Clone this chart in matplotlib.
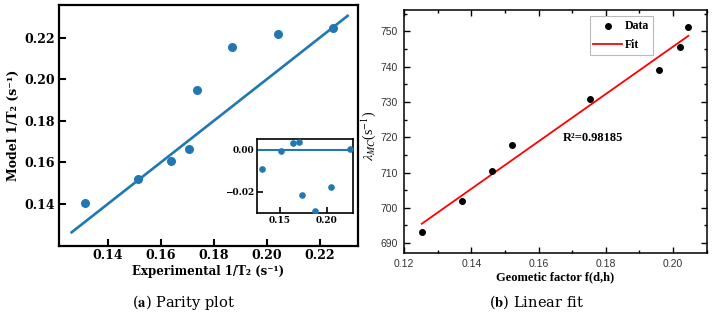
import numpy as np
import matplotlib.pyplot as plt
from matplotlib.ticker import MultipleLocator

# (a) parity plot data
exp_t2 = [0.1312, 0.1514, 0.1638, 0.1707, 0.1736, 0.1870, 0.2042, 0.2248]
model_t2 = [0.1403, 0.1518, 0.1608, 0.1665, 0.1950, 0.2157, 0.2218, 0.2244]
resid = [-0.0092, -0.0005, 0.0030, 0.0038, -0.0216, -0.0291, -0.0179, 0.0002]
parity_line = [0.1263, 0.2305]

# (b) linear fit data
geo_factor = [0.1252, 0.1372, 0.1461, 0.1520, 0.1754, 0.1960, 0.2022, 0.2046]
lambda_mc = [693.1, 702.0, 710.5, 717.7, 730.8, 738.9, 745.5, 751.3]
r2_text = "R²=0.98185"

plt.rcParams['mathtext.fontset'] = 'stix'

fig = plt.figure(figsize=(7.13, 3.17), dpi=100)
W, H = 713, 317


def box(x0, y0, x1, y1):
    return [x0 / W, 1 - y1 / H, (x1 - x0) / W, (y1 - y0) / H]


blue = '#1f77b4'
bold_serif = dict(family='DejaVu Serif', weight='bold')

# ---- left panel ----
ax1 = fig.add_axes(box(58.7, 5, 358, 246))
ax1.plot(parity_line, parity_line, color=blue, lw=1.9)
ax1.scatter(exp_t2, model_t2, s=30, color=blue, zorder=3)
ax1.set_xlim(0.1214, 0.2344)
ax1.set_ylim(0.1197, 0.2357)
ax1.set_xticks([0.14, 0.16, 0.18, 0.20, 0.22])
ax1.set_yticks([0.14, 0.16, 0.18, 0.20, 0.22])
ax1.tick_params(direction='in', length=5, width=1.5, labelsize=9, pad=3)
ax1.tick_params(axis='x', pad=2)
for lab in ax1.get_xticklabels() + ax1.get_yticklabels():
    lab.set_fontfamily('DejaVu Serif')
    lab.set_fontweight('bold')
for sp in ax1.spines.values():
    sp.set_linewidth(1.6)
ax1.set_xlabel('Experimental 1/T₂ (s⁻¹)', fontsize=8.5, labelpad=2, **bold_serif)
ax1.set_ylabel('Model 1/T₂ (s⁻¹)', fontsize=9, labelpad=3, **bold_serif)

# inset with residuals
ax_in = fig.add_axes(box(256.7, 139, 353.3, 213.3))
ax_in.axhline(0, color=blue, lw=1.5)
ax_in.scatter(exp_t2, resid, s=14, color=blue, zorder=3)
ax_in.set_xlim(0.125, 0.2285)
ax_in.set_ylim(-0.0303, 0.0051)
ax_in.set_xticks([0.15, 0.20])
ax_in.set_yticks([0.00, -0.02])
ax_in.set_yticklabels(['0.00', '−0.02'])
ax_in.tick_params(direction='in', length=4, width=1.2, labelsize=6.5, pad=2)
for lab in ax_in.get_xticklabels() + ax_in.get_yticklabels():
    lab.set_fontfamily('DejaVu Serif')
    lab.set_fontweight('bold')
for sp in ax_in.spines.values():
    sp.set_linewidth(1.2)

# ---- right panel ----
ax2 = fig.add_axes(box(404.3, 10, 706.5, 252.7))
slope, icpt = np.polyfit(geo_factor, lambda_mc, 1)
xf = np.array([min(geo_factor), max(geo_factor)])
ax2.scatter(geo_factor, lambda_mc, s=16, color='black', zorder=3, label='Data')
ax2.plot(xf, slope * xf + icpt, color='red', lw=1.3, label='Fit')
ax2.set_xlim(0.12, 0.21)
ax2.set_ylim(687.3, 756)
ax2.xaxis.set_major_locator(MultipleLocator(0.02))
ax2.xaxis.set_minor_locator(MultipleLocator(0.01))
ax2.yaxis.set_major_locator(MultipleLocator(10))
ax2.yaxis.set_minor_locator(MultipleLocator(5))
ax2.tick_params(which='both', direction='in', top=True, right=True, width=1.0)
ax2.tick_params(which='major', length=4, labelsize=7.5, pad=4.5)
ax2.tick_params(which='minor', length=2)
ax2.xaxis.set_major_formatter(lambda v, p: f'{v:.2f}')
for lab in ax2.get_xticklabels() + ax2.get_yticklabels():
    lab.set_fontfamily('Liberation Sans')
    lab.set_color('#333333')
for sp in ax2.spines.values():
    sp.set_linewidth(1.1)
ax2.set_xlabel('Geometic factor f(d,h)', fontsize=9, family='Liberation Serif',
               weight='bold', labelpad=2)
ax2.set_ylabel(r'$\lambda_{MC}$(s$^{-1}$)', fontsize=10, family='Liberation Serif')
ax2.yaxis.set_label_coords(-0.088, 0.48)
ax2.text(0.1672, 719.9, r2_text, fontsize=9, family='Liberation Serif',
         weight='bold', va='center')
leg = ax2.legend(loc='upper right', bbox_to_anchor=(0.823, 0.975), borderaxespad=0,
                 prop=dict(family='Liberation Serif', weight='bold', size=8.5),
                 fancybox=False, edgecolor='#bbbbbb', framealpha=1,
                 handlelength=2.4, handletextpad=0.3, borderpad=0.3, labelspacing=0.65)
leg.get_frame().set_linewidth(0.8)

# captions
fig.text(183 / W, 1 - 302 / H, r'($\mathbf{a}$) Parity plot', ha='center', va='center',
         fontsize=10.5, family='DejaVu Serif')
fig.text(536 / W, 1 - 302 / H, r'($\mathbf{b}$) Linear fit', ha='center', va='center',
         fontsize=10.5, family='DejaVu Serif')

fig.savefig('out.png', dpi=100)
